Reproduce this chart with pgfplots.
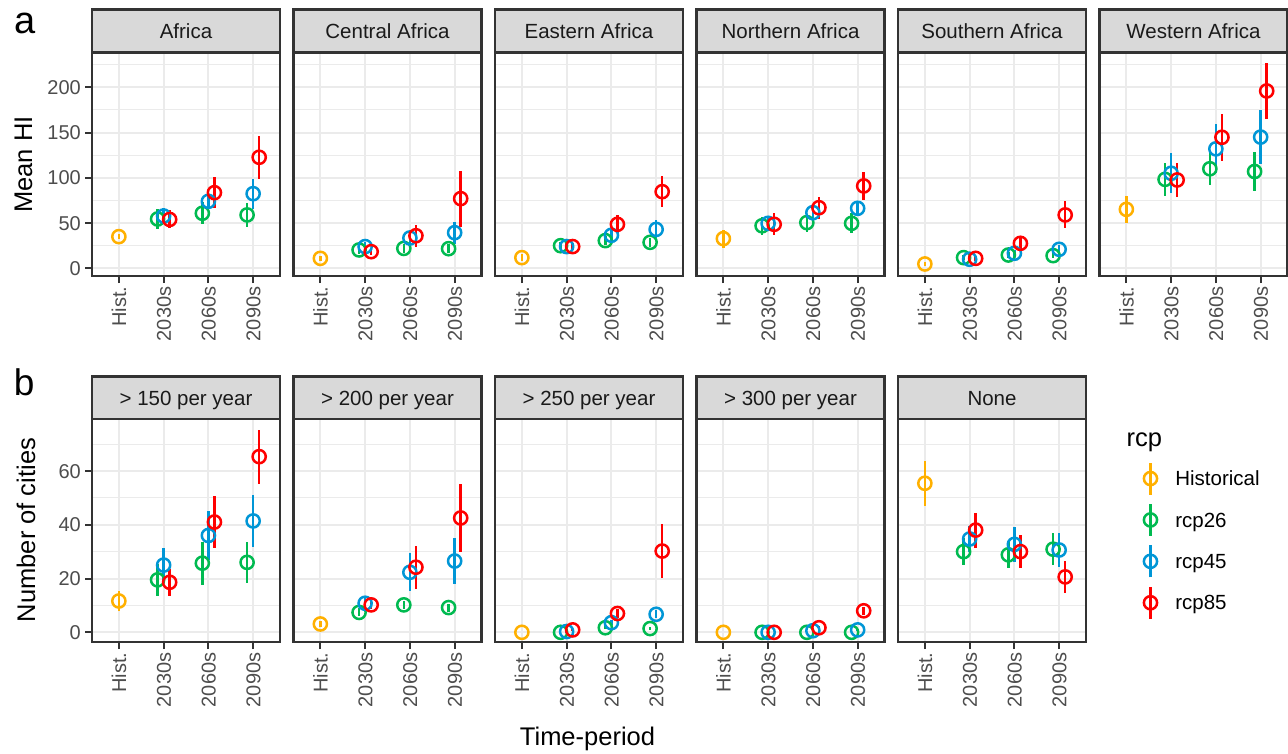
\documentclass[border=0pt]{standalone}
\usepackage{pgfplots}
\pgfplotsset{compat=1.18}
\usepackage{fontspec}
\setmainfont{Liberation Sans}
\definecolor{gray10}{HTML}{1A1A1A}
\definecolor{gray20}{HTML}{333333}
\definecolor{gray30}{HTML}{4D4D4D}
\definecolor{gray85}{HTML}{D9D9D9}
\definecolor{gray92}{HTML}{EBEBEB}
\definecolor{cH}{HTML}{FFB000}
\definecolor{cA}{HTML}{00BA50}
\definecolor{cB}{HTML}{0096D6}
\definecolor{cC}{HTML}{FF0000}
\pgfplotsset{
  ser/.style={only marks, mark=o, mark size=6.6pt, line width=2.5pt,
    mark options={solid, line width=2.5pt},
    legend image code/.code={\draw[line width=2.5pt] (0pt,-16pt) -- (0pt,16pt); \draw[line width=2.5pt] (0pt,0pt) circle (6.6pt);},
    error bars/.cd, y dir=both, y explicit, error mark=none, error bar style={line width=2.5pt, solid}},
  sH/.style={color=cH, ser},
  sA/.style={color=cA, ser},
  sB/.style={color=cB, ser},
  sC/.style={color=cC, ser},
  panel/.style={scale only axis, width=188pt, xmin=-0.6, xmax=3.6,
    xtick={0,1,2,3}, xticklabels={Hist.,2030s,2060s,2090s},
    /pgf/number format/assume math mode=true,
    axis line style={gray20, line width=2.5pt},
    tick align=outside, tick pos=left, major tick length=7pt, minor tick length=0pt,
    tick style={gray20, line width=2pt},
    xmajorgrids, ymajorgrids, yminorgrids,
    major grid style={gray92, line width=2pt},
    minor grid style={gray92, line width=1pt},
    xticklabel style={yshift=-3.5pt, rotate=90, anchor=east, inner sep=0pt, text=gray30, font=\fontsize{20}{24}\selectfont, text height=14.3pt, text depth=0pt},
    yticklabel style={xshift=-4pt, anchor=east, inner sep=0pt, text=gray30, font=\fontsize{20}{24}\selectfont, text height=14.3pt, text depth=0pt},
    every axis title/.style={at={(0.5,1)}, anchor=south, fill=gray85, draw=gray20, line width=2.5pt,
      minimum width=188pt, minimum height=42.6pt, inner sep=0pt, outer sep=0pt, text=gray10,
      font=\fontsize{20.5}{24}\selectfont, text height=14.7pt, text depth=0pt},
  },
  rowA/.style={panel, height=223.7pt, ymin=-8.5, ymax=238.7, ytick={0,50,100,150,200}, minor ytick={25,75,125,175,225}},
  rowB/.style={panel, height=223pt, ymin=-3.6, ymax=79.3, ytick={0,20,40,60}, minor ytick={10,30,50,70}},
  noy/.style={yticklabels={}, ytick style={draw=none}},
}
\begin{document}
\begin{tikzpicture}
\fill[white] (0pt,0pt) rectangle (1288pt,-754pt);
\path[use as bounding box] (0pt,0pt) rectangle (1288pt,-754pt);

% ---------- Row a ----------
\begin{axis}[rowA, at={(92pt,-276pt)}, anchor=south west, title={Africa}]
\addplot[sH] coordinates {(0,35) +- (0,3)};
\addplot[sA] coordinates {(0.865,54.5) +- (0,11) (1.865,60.8) +- (0,12) (2.865,59) +- (0,13)};
\addplot[sB] coordinates {(1,57.8) +- (0,9) (2,74) +- (0,7) (3,82.5) +- (0,16.5)};
\addplot[sC] coordinates {(1.135,54) +- (0,10) (2.135,83.6) +- (0,17) (3.135,122.7) +- (0,24)};
\end{axis}
\begin{axis}[rowA, noy, at={(293.5pt,-276pt)}, anchor=south west, title={Central Africa}]
\addplot[sH] coordinates {(0,11) +- (0,3)};
\addplot[sA] coordinates {(0.865,20.3) +- (0,4) (1.865,22) +- (0,5) (2.865,21.7) +- (0,5)};
\addplot[sB] coordinates {(1,24) +- (0,5) (2,33.5) +- (0,7) (3,39.4) +- (0,12)};
\addplot[sC] coordinates {(1.135,18.4) +- (0,4) (2.135,36) +- (0,12) (3.135,77) +- (0,31)};
\end{axis}
\begin{axis}[rowA, noy, at={(495pt,-276pt)}, anchor=south west, title={Eastern Africa}]
\addplot[sH] coordinates {(0,11.8) +- (0,4)};
\addplot[sA] coordinates {(0.865,25) +- (0,4) (1.865,30.6) +- (0,5) (2.865,28.7) +- (0,5)};
\addplot[sB] coordinates {(1,24) +- (0,4) (2,36.5) +- (0,6) (3,43) +- (0,10)};
\addplot[sC] coordinates {(1.135,24) +- (0,4) (2.135,48.6) +- (0,10) (3.135,84.7) +- (0,17)};
\end{axis}
\begin{axis}[rowA, noy, at={(696.5pt,-276pt)}, anchor=south west, title={Northern Africa}]
\addplot[sH] coordinates {(0,32.8) +- (0,10)};
\addplot[sA] coordinates {(0.865,47) +- (0,10) (1.865,50.5) +- (0,10) (2.865,49.7) +- (0,11)};
\addplot[sB] coordinates {(1,49.7) +- (0,8) (2,61.5) +- (0,7) (3,66.3) +- (0,8)};
\addplot[sC] coordinates {(1.135,48.6) +- (0,12) (2.135,67) +- (0,12) (3.135,91) +- (0,15)};
\end{axis}
\begin{axis}[rowA, noy, at={(898pt,-276pt)}, anchor=south west, title={Southern Africa}]
\addplot[sH] coordinates {(0,4.8) +- (0,2)};
\addplot[sA] coordinates {(0.865,11.8) +- (0,3) (1.865,14.7) +- (0,3) (2.865,14) +- (0,3)};
\addplot[sB] coordinates {(1,10) +- (0,3) (2,16.6) +- (0,4) (3,21) +- (0,5)};
\addplot[sC] coordinates {(1.135,11) +- (0,3) (2.135,27.6) +- (0,6) (3.135,59) +- (0,15)};
\end{axis}
\begin{axis}[rowA, noy, at={(1099.5pt,-276pt)}, anchor=south west, title={Western Africa}]
\addplot[sH] coordinates {(0,65.2) +- (0,15)};
\addplot[sA] coordinates {(0.865,98.3) +- (0,18) (1.865,110) +- (0,18) (2.865,107) +- (0,22)};
\addplot[sB] coordinates {(1,105) +- (0,22) (2,132) +- (0,27) (3,145) +- (0,30)};
\addplot[sC] coordinates {(1.135,97.6) +- (0,19) (2.135,144.8) +- (0,26) (3.135,196) +- (0,31)};
\end{axis}

% ---------- Row b ----------
\begin{axis}[rowB, at={(92pt,-642pt)}, anchor=south west, title={> 150 per year}]
\addplot[sH] coordinates {(0,11.65) +- (0,3.7)};
\addplot[sA] coordinates {(0.865,19.5) +- (0,6) (1.865,25.7) +- (0,8) (2.865,26) +- (0,7.6)};
\addplot[sB] coordinates {(1,25) +- (0,6.5) (2,36) +- (0,9) (3,41.4) +- (0,9.8)};
\addplot[sC] coordinates {(1.135,18.6) +- (0,5) (2.135,41) +- (0,9.6) (3.135,65.3) +- (0,10)};
\end{axis}
\begin{axis}[rowB, noy, at={(293.5pt,-642pt)}, anchor=south west, title={> 200 per year}]
\addplot[sH] coordinates {(0,3.1) +- (0,1)};
\addplot[sA] coordinates {(0.865,7.4) +- (0,1.5) (1.865,10.2) +- (0,1.5) (2.865,9.2) +- (0,1.5)};
\addplot[sB] coordinates {(1,10.8) +- (0,2) (2,22.3) +- (0,7) (3,26.5) +- (0,8.7)};
\addplot[sC] coordinates {(1.135,10.2) +- (0,1.5) (2.135,24.2) +- (0,8) (3.135,42.5) +- (0,12.5)};
\end{axis}
\begin{axis}[rowB, noy, at={(495pt,-642pt)}, anchor=south west, title={> 250 per year}]
\addplot[sH] coordinates {(0,0) +- (0,0)};
\addplot[sA] coordinates {(0.865,0) +- (0,0) (1.865,1.7) +- (0,0.5) (2.865,1.4) +- (0,0.5)};
\addplot[sB] coordinates {(1,0.3) +- (0,0.3) (2,3.6) +- (0,1) (3,6.7) +- (0,1.5)};
\addplot[sC] coordinates {(1.135,0.9) +- (0,0.5) (2.135,7) +- (0,1.5) (3.135,30.2) +- (0,10)};
\end{axis}
\begin{axis}[rowB, noy, at={(696.5pt,-642pt)}, anchor=south west, title={> 300 per year}]
\addplot[sH] coordinates {(0,0) +- (0,0)};
\addplot[sA] coordinates {(0.865,0) +- (0,0) (1.865,0) +- (0,0) (2.865,0) +- (0,0)};
\addplot[sB] coordinates {(1,0) +- (0,0) (2,0.6) +- (0,0.3) (3,0.9) +- (0,0.3)};
\addplot[sC] coordinates {(1.135,0) +- (0,0) (2.135,1.7) +- (0,0.5) (3.135,8) +- (0,1.5)};
\end{axis}
\begin{axis}[rowB, noy, at={(898pt,-642pt)}, anchor=south west, title={None},
  legend cell align=left,
  legend style={at={(1.3012,0.8103)}, anchor=north west, draw=none, fill=none,
    inner sep=0pt, outer sep=0pt, row sep=6.9pt, column sep=17pt,
    font=\fontsize{20.5}{24}\selectfont,
    nodes={inner sep=0pt, text height=14.5pt, text depth=0pt, anchor=west}}]
\addplot[sH] coordinates {(0,55.4) +- (0,8.4)};
\addlegendentry{Historical}
\addplot[sA] coordinates {(0.865,30) +- (0,5) (1.865,28.8) +- (0,5) (2.865,30.9) +- (0,6)};
\addlegendentry{rcp26}
\addplot[sB] coordinates {(1,34.7) +- (0,5) (2,32.7) +- (0,6.4) (3,30.6) +- (0,6.4)};
\addlegendentry{rcp45}
\addplot[sC] coordinates {(1.135,38) +- (0,6.5) (2.135,30) +- (0,6.2) (3.135,20.6) +- (0,6)};
\addlegendentry{rcp85}
\end{axis}

% ---------- Labels ----------
\node[anchor=base west, inner sep=0pt, font=\fontsize{38}{44}\selectfont] at (14.5pt,-33.3pt) {a};
\node[anchor=base west, inner sep=0pt, font=\fontsize{37}{44}\selectfont] at (13.6pt,-395pt) {b};
\node[rotate=90, anchor=base, inner sep=0pt, font=\fontsize{25.5}{30}\selectfont] at (32pt,-164.5pt) {Mean HI};
\node[rotate=90, anchor=base, inner sep=0pt, font=\fontsize{25.5}{30}\selectfont] at (35pt,-530pt) {Number of cities};
\node[anchor=base, inner sep=0pt, font=\fontsize{25.5}{30}\selectfont] at (587.5pt,-745pt) {Time-period};
\node[anchor=base west, inner sep=0pt, font=\fontsize{25.5}{30}\selectfont] at (1126.5pt,-446.7pt) {rcp};
\end{tikzpicture}
\end{document}
